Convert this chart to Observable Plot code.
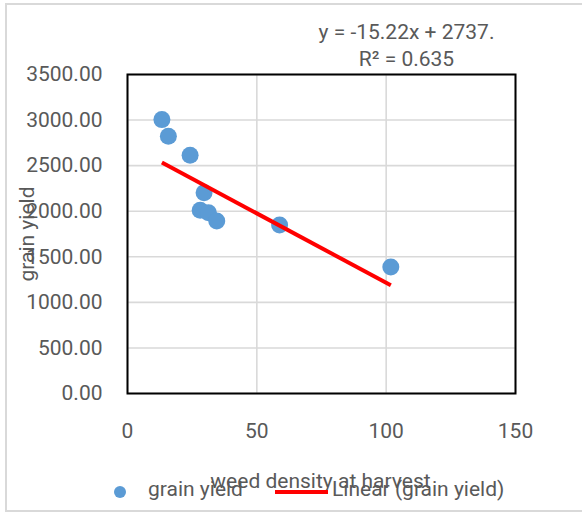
<!DOCTYPE html>
<html>
<head>
<meta charset="utf-8">
<script src="https://cdn.jsdelivr.net/npm/d3@7"></script>
<script src="https://cdn.jsdelivr.net/npm/@observablehq/plot@0.6"></script>
<style>
  html, body { margin: 0; padding: 0; background: #fff; }
  #wrap { position: relative; width: 582px; height: 514px; overflow: hidden; font-family: Roboto, "Liberation Sans", sans-serif; color: #595959; }
  #border { position: absolute; left: 5px; top: 3px; width: 620px; height: 509px; border: 2px solid #d9d9d9; box-sizing: border-box; }
  #chart { position: absolute; left: 0; top: 0; }
  g[aria-label="points"] circle { filter: drop-shadow(1.5px 2px 1.5px rgba(0,0,0,0.35)); }
  #legend { position: absolute; left: 0; top: 0; width: 582px; height: 514px; pointer-events: none; font-size: 21px; }
  #legend .dot { position: absolute; left: 114px; top: 486px; width: 12px; height: 12px; border-radius: 50%; background: #5b9bd5; }
  #legend .t1 { position: absolute; left: 148px; top: 477px; line-height: 24px; white-space: nowrap; }
  #legend .ln { position: absolute; left: 275px; top: 490px; width: 53px; height: 4px; background: #ff0000; }
  #legend .t2 { position: absolute; left: 332px; top: 477px; line-height: 24px; white-space: nowrap; }
</style>
</head>
<body>
<div id="wrap">
  <div id="border"></div>
  <div id="chart"></div>
  <div id="legend">
    <span class="dot"></span><span class="t1" id="lg1"></span>
    <span class="ln"></span><span class="t2" id="lg2"></span>
  </div>
</div>
<script>
// Data
const weedDensity = [13.3, 15.8, 24.2, 29.6, 28.1, 31.3, 34.5, 58.8, 101.8];
const grainYield = [3005, 2823, 2615, 2202, 2010, 1984, 1893, 1849, 1389];

// Trend line (as reported on the chart)
const slope = -15.22;
const intercept = 2737;
const rSquared = 0.635;

// Axis ticks
const xTicks = [0, 50, 100, 150];
const yTicks = [0, 500, 1000, 1500, 2000, 2500, 3000, 3500];

// Labels
const seriesName = "grain yield";
const trendName = "Linear (grain yield)";
const xTitle = "weed density at harvest";
const yTitle = "grain yield";

const points = weedDensity.map((x, i) => ({x, y: grainYield[i]}));
const xExt = d3.extent(weedDensity);
const trend = xExt.map(x => ({x, y: slope * x + intercept}));
const eqText = `y = ${slope}x + ${intercept}.\nR² = ${rSquared}`;
const FS = 21;

const plot = Plot.plot({
  width: 582,
  height: 514,
  marginLeft: 127,
  marginRight: 67,
  marginTop: 74,
  marginBottom: 121,
  style: {fontFamily: "Roboto, 'Liberation Sans', sans-serif", fontSize: FS + "px", color: "#595959", background: "transparent"},
  x: {domain: [0, 150], ticks: xTicks},
  y: {domain: [0, 3500], ticks: yTicks},
  marks: [
    Plot.gridX(xTicks, {stroke: "#d9d9d9", strokeOpacity: 1, strokeWidth: 1.6}),
    Plot.gridY(yTicks, {stroke: "#d9d9d9", strokeOpacity: 1, strokeWidth: 1.6}),
    Plot.frame({stroke: "#000", strokeWidth: 2}),
    Plot.axisX(xTicks, {tickSize: 0, tickPadding: 30, label: null, fill: "#595959", fontSize: FS}),
    Plot.axisY(yTicks, {tickSize: 0, tickPadding: 25, label: null, tickFormat: d => d.toFixed(2), fill: "#595959", fontSize: FS}),
    Plot.dot(points, {x: "x", y: "y", r: 8.5, fill: "#5b9bd5", stroke: "none", ariaLabel: "points"}),
    Plot.line(trend, {x: "x", y: "y", stroke: "#ff0000", strokeWidth: 4, strokeLinecap: "butt"}),
    Plot.text([eqText], {frameAnchor: "top-left", dx: 279, dy: -31, text: d => d, textAnchor: "middle", lineHeight: 1.29, lineAnchor: "middle", fill: "#595959", fontSize: FS}),
    Plot.text([yTitle], {frameAnchor: "left", dx: -100, dy: 0, rotate: -90, text: d => d, textAnchor: "middle", lineAnchor: "middle", fill: "#595959", fontSize: FS}),
    Plot.text([xTitle], {frameAnchor: "bottom", dx: -1, dy: 88, text: d => d, textAnchor: "middle", lineAnchor: "middle", fill: "#595959", fontSize: FS})
  ]
});
document.getElementById("chart").appendChild(plot);
document.getElementById("lg1").textContent = seriesName;
document.getElementById("lg2").textContent = trendName;
</script>
</body>
</html>
